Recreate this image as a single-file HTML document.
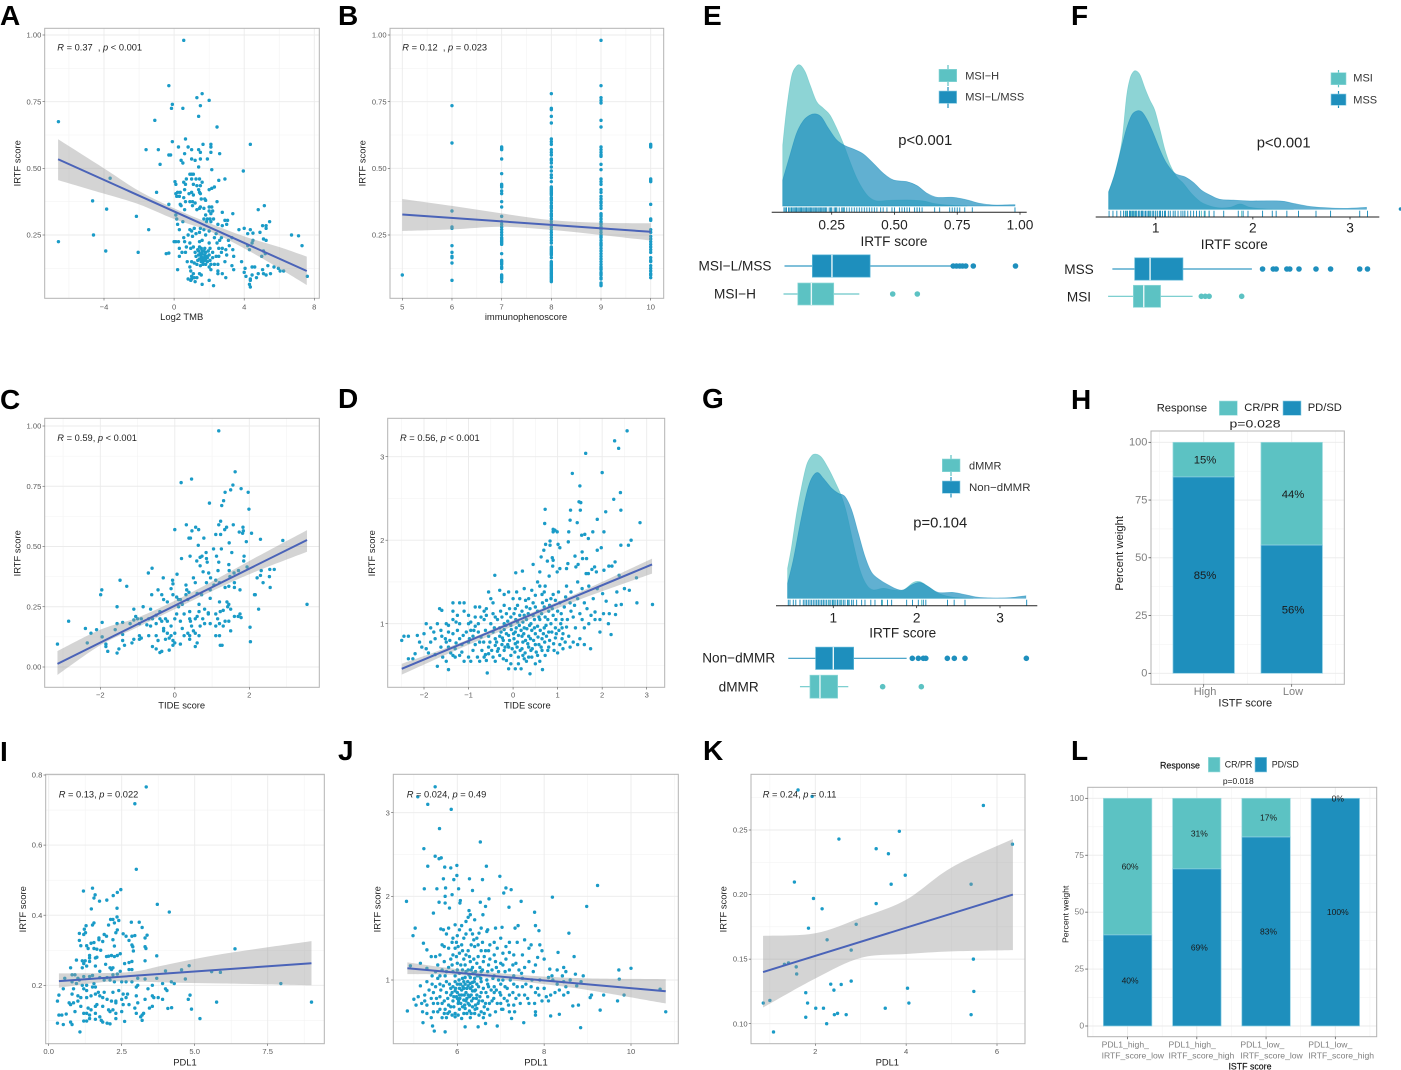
<!DOCTYPE html>
<html lang="en">
<head>
<meta charset="utf-8">
<title>IRTF score multi-panel figure</title>
<style>
html,body{margin:0;padding:0;background:#fff}
svg{display:block;font-family:"Liberation Sans",Arial,sans-serif}
.letter{font-size:28px;font-weight:700;fill:#000}
.anno{font-size:9.3px;fill:#222}
.title{font-size:9.4px;fill:#222}
.dtext{font-size:13.6px;fill:#222}
.ptext{font-size:14.8px;fill:#222}
.ltext{font-size:11px;fill:#333}
</style>
</head>
<body>
<svg id="figure" xmlns="http://www.w3.org/2000/svg" width="1401" height="1070" viewBox="0 0 1401 1070">
<rect width="1401" height="1070" fill="#fff"/>

<g id="panel-a"><g class="plot"></g>
<text class="letter" x="0" y="25">A</text>
<text class="anno" x="57.3" y="50.7"><tspan font-style="italic">R</tspan> = 0.37 &#160;, <tspan font-style="italic">p</tspan> &lt; 0.001</text>
<text class="title" x="181.7" y="320" text-anchor="middle">Log2 TMB</text>
<text class="title" transform="translate(20.5,163.3) rotate(-90)" text-anchor="middle">IRTF score</text></g>

<g id="panel-b"><g class="plot"></g>
<text class="letter" x="338" y="25">B</text>
<text class="anno" x="402.3" y="50.7"><tspan font-style="italic">R</tspan> = 0.12 &#160;, <tspan font-style="italic">p</tspan> = 0.023</text>
<text class="title" x="526" y="320" text-anchor="middle">immunophenoscore</text>
<text class="title" transform="translate(365.5,163.3) rotate(-90)" text-anchor="middle">IRTF score</text></g>

<g id="panel-c"><g class="plot"></g>
<text class="letter" x="0" y="409">C</text>
<text class="anno" x="57.3" y="441"><tspan font-style="italic">R</tspan> = 0.59, <tspan font-style="italic">p</tspan> &lt; 0.001</text>
<text class="title" x="181.7" y="708.3" text-anchor="middle">TIDE score</text>
<text class="title" transform="translate(20.5,553.3) rotate(-90)" text-anchor="middle">IRTF score</text></g>

<g id="panel-d"><g class="plot"></g>
<text class="letter" x="338" y="408">D</text>
<text class="anno" x="400" y="441"><tspan font-style="italic">R</tspan> = 0.56, <tspan font-style="italic">p</tspan> &lt; 0.001</text>
<text class="title" x="527.3" y="708.3" text-anchor="middle">TIDE score</text>
<text class="title" transform="translate(375,553.3) rotate(-90)" text-anchor="middle">IRTF score</text></g>

<g id="panel-e"><g class="plot"></g>
<text class="letter" x="703" y="25">E</text>
<text class="dtext" x="894" y="246" text-anchor="middle">IRTF score</text>
<text class="ptext" x="898.3" y="145">p&lt;0.001</text>
<text class="dtext" x="735" y="270.7" text-anchor="middle">MSI−L/MSS</text>
<text class="dtext" x="735" y="298.7" text-anchor="middle">MSI−H</text>
<g><line x1="948" x2="948" y1="65" y2="86" stroke="#5cc2c3" stroke-width="1.2"/><rect x="939" y="69.3" width="17.7" height="12.4" fill="#5cc2c3" stroke="#8fd8d8" stroke-width=".6"/><text class="ltext" x="965.2" y="79.7">MSI−H</text></g>
<g><line x1="948" x2="948" y1="87" y2="108" stroke="#1e8fbd" stroke-width="1.2"/><rect x="939" y="91" width="17.7" height="12.4" fill="#1e8fbd" stroke="#8fd0e4" stroke-width=".6"/><text class="ltext" x="965.2" y="100.7">MSI−L/MSS</text></g></g>

<g id="panel-f"><g class="plot"></g>
<text class="letter" x="1071" y="25">F</text>
<text class="dtext" x="1234.3" y="249" text-anchor="middle">IRTF score</text>
<text class="ptext" x="1256.7" y="147.3">p&lt;0.001</text>
<text class="dtext" x="1079" y="274" text-anchor="middle">MSS</text>
<text class="dtext" x="1079" y="301.5" text-anchor="middle">MSI</text>
<g><line x1="1338.5" x2="1338.5" y1="70" y2="87.3" stroke="#5cc2c3" stroke-width="1.2"/><rect x="1331" y="72.7" width="15" height="12" fill="#5cc2c3" stroke="#8fd8d8" stroke-width=".6"/><text class="ltext" x="1353.3" y="81.7">MSI</text></g>
<g><line x1="1338.5" x2="1338.5" y1="91" y2="108" stroke="#1e8fbd" stroke-width="1.2"/><rect x="1331" y="94" width="15" height="11.3" fill="#1e8fbd" stroke="#8fd0e4" stroke-width=".6"/><text class="ltext" x="1353.3" y="103.3">MSS</text></g>
<circle cx="1400.5" cy="209" r="1.8" fill="#1e8fbd"/></g>

<g id="panel-g"><g class="plot"></g>
<text class="letter" x="702" y="408">G</text>
<text class="dtext" x="902.7" y="637.7" text-anchor="middle">IRTF score</text>
<text class="ptext" x="913.3" y="527.7">p=0.104</text>
<text class="dtext" x="738.7" y="662.7" text-anchor="middle">Non−dMMR</text>
<text class="dtext" x="738.7" y="691.3" text-anchor="middle">dMMR</text>
<g><line x1="951" x2="951" y1="455" y2="476" stroke="#5cc2c3" stroke-width="1.2"/><rect x="942.3" y="459" width="17.7" height="12.7" fill="#5cc2c3" stroke="#8fd8d8" stroke-width=".6"/><text class="ltext" x="969" y="469.3">dMMR</text></g>
<g><line x1="951" x2="951" y1="477" y2="497.5" stroke="#1e8fbd" stroke-width="1.2"/><rect x="942.3" y="481" width="17.7" height="12.3" fill="#1e8fbd" stroke="#8fd0e4" stroke-width=".6"/><text class="ltext" x="969" y="491" textLength="61.5" lengthAdjust="spacingAndGlyphs">Non−dMMR</text></g></g>

<g id="panel-h"><g class="plot"></g>
<text class="letter" x="1071" y="409">H</text>
<text font-size="11.2" fill="#222" x="1156.7" y="411.7">Response</text>
<g><rect x="1219.3" y="401" width="18" height="14.3" fill="#5cc2c3" stroke="#a4dfe0" stroke-width=".6"/><text font-size="11.2" fill="#222" x="1244.3" y="411">CR/PR</text></g>
<g><rect x="1283" y="401" width="18" height="14.3" fill="#1e8fbd" stroke="#8fd0e4" stroke-width=".6"/><text font-size="11.2" fill="#222" x="1307.7" y="411">PD/SD</text></g>
<text font-size="11.4" fill="#222" x="1255" y="427.3" text-anchor="middle" textLength="51" lengthAdjust="spacingAndGlyphs">p=0.028</text>
<text font-size="11" fill="#222" x="1245.3" y="706.7" text-anchor="middle">ISTF score</text>
<text font-size="11.3" fill="#222" transform="translate(1123,553.3) rotate(-90)" text-anchor="middle">Percent weight</text></g>

<g id="panel-i"><g class="plot"></g>
<text class="letter" x="0" y="761">I</text>
<text class="anno" x="58.7" y="797.7"><tspan font-style="italic">R</tspan> = 0.13, <tspan font-style="italic">p</tspan> = 0.022</text>
<text class="title" x="185" y="1065.7" text-anchor="middle">PDL1</text>
<text class="title" transform="translate(26,909.3) rotate(-90)" text-anchor="middle">IRTF score</text></g>

<g id="panel-j"><g class="plot"></g>
<text class="letter" x="338" y="760">J</text>
<text class="anno" x="406.7" y="797.7"><tspan font-style="italic">R</tspan> = 0.024, <tspan font-style="italic">p</tspan> = 0.49</text>
<text class="title" x="536" y="1065.7" text-anchor="middle">PDL1</text>
<text class="title" transform="translate(380.5,909.3) rotate(-90)" text-anchor="middle">IRTF score</text></g>

<g id="panel-k"><g class="plot"></g>
<text class="letter" x="703" y="760">K</text>
<text class="anno" x="762.7" y="797.7"><tspan font-style="italic">R</tspan> = 0.24, <tspan font-style="italic">p</tspan> = 0.11</text>
<text class="title" x="887.3" y="1065.7" text-anchor="middle">PDL1</text>
<text class="title" transform="translate(726.5,909.3) rotate(-90)" text-anchor="middle">IRTF score</text></g>

<g id="panel-l"><g class="plot"></g>
<text class="letter" x="1071" y="760">L</text>
<text font-size="8.9" fill="#111" stroke="#111" stroke-width=".15" x="1160" y="768.3">Response</text>
<g><rect x="1208.3" y="757.3" width="11.7" height="14.7" fill="#5cc2c3" stroke="#a4dfe0" stroke-width=".6"/><text font-size="8.9" fill="#222" x="1224.7" y="767.3">CR/PR</text></g>
<g><rect x="1255" y="757.3" width="11.7" height="14.7" fill="#1e8fbd" stroke="#8fd0e4" stroke-width=".6"/><text font-size="8.9" fill="#222" x="1271.7" y="767.3">PD/SD</text></g>
<text font-size="8.5" fill="#222" x="1238.3" y="784" text-anchor="middle">p=0.018</text>
<text font-size="8.8" fill="#111" stroke="#111" stroke-width=".15" x="1250" y="1069.3" text-anchor="middle">ISTF score</text>
<text font-size="8.7" fill="#222" transform="translate(1068.5,914.3) rotate(-90)" text-anchor="middle">Percent weight</text></g>
</svg>

<script>
/* ===== Panel A values: [Log2 TMB, IRTF score] ===== */
const aXTicks=[-4,0,4,8];
const aYTicks=[.25,.5,.75,1];
const aPoints=[[.55,.98],[-.3,.81],[1.6,.78],[1.3,.765],[2,.755],[-.1,.74],[-.15,.725],[.5,.725],[1.5,.735],[1.4,.695],[-1.1,.68],[2.45,.655],[-6.6,.675],[.65,.61],[-.1,.6],[4.35,.59],[2.1,.59],[2.1,.58],[1.65,.59],[.8,.58],[.25,.58],[-1.6,.57],[-.9,.57],[1,.57],[1.4,.57],[1.5,.56],[2.1,.56],[.6,.555],[2.6,.555],[-.3,.55],[-.2,.55],[1,.535],[1.2,.53],[1.5,.535],[1.9,.535],[.4,.53],[.5,.52],[-.8,.515],[1.4,.505],[2.15,.495],[3.95,.49],[.9,.478],[1,.478],[1.1,.478],[.7,.46],[1,.46],[1.25,.46],[1.45,.46],[.55,.448],[1.6,.448],[.05,.45],[.1,.44],[.65,.44],[1.1,.44],[1.3,.435],[1.5,.435],[2.55,.455],[2.9,.46],[2,.42],[2.15,.425],[2.3,.43],[1.4,.42],[.6,.42],[1.45,.41],[-1,.41],[.2,.41],[.35,.41],[.1,.405],[.85,.405],[1,.41],[1.5,.405],[1.1,.4],[.15,.395],[.3,.395],[.55,.39],[1.55,.385],[1.75,.385],[1.8,.38],[.9,.375],[1.05,.375],[1.2,.37],[.65,.375],[2.45,.375],[-.3,.365],[.35,.365],[.4,.36],[1.05,.36],[1.5,.355],[2,.355],[2.15,.355],[1.7,.35],[1.45,.35],[2,.34],[2.2,.34],[.6,.345],[1.3,.345],[2.1,.33],[1.8,.325],[2.75,.335],[3.35,.33],[5.15,.36],[4.8,.345],[.1,.325],[.15,.31],[.5,.3],[.2,.29],[1.7,.31],[1.9,.31],[2.05,.31],[2.1,.3],[1.85,.3],[2.25,.31],[2.9,.305],[3.05,.305],[2.5,.29],[2.75,.285],[3,.29],[5.45,.3],[5.05,.285],[5.25,.285],[5.25,.275],[4,.275],[3.7,.27],[4.35,.27],[-1.45,.27],[.3,.27],[.9,.27],[1.15,.275],[1,.265],[1.5,.275],[1.7,.27],[1.45,.26],[1.25,.255],[2,.265],[2.4,.255],[4.5,.257],[4.9,.26],[4.2,.255],[6.7,.25],[7.1,.247],[7.3,.21],[-4.6,.25],[-6.6,.225],[-3.9,.19],[-2.05,.185],[-4.65,.378],[-3.85,.347],[-2.15,.32],[-3.65,.463],[.55,.24],[.8,.25],[1.05,.245],[1.8,.25],[2.3,.24],[2.7,.24],[3.3,.24],[5.1,.235],[5.25,.23],[4.5,.23],[.6,.225],[.9,.22],[1.6,.23],[1.45,.225],[2,.22],[2.45,.22],[0,.225],[.1,.225],[.25,.225],[2.6,.23],[3.1,.23],[4.45,.22],[.7,.205],[.95,.2],[1.1,.205],[1.45,.205],[1.55,.2],[1.75,.2],[2.05,.2],[2.55,.2],[2.75,.2],[2.95,.195],[3.35,.195],[3.15,.21],[.3,.2],[.45,.185],[.65,.185],[1.2,.185],[1.35,.195],[1.6,.19],[1.8,.185],[1.95,.19],[2.2,.185],[2.7,.185],[4.2,.21],[4.3,.195],[5.1,.19],[5.2,.18],[5,.17],[-.45,.18],[-.3,.182],[.3,.17],[.75,.15],[1,.15],[1.25,.17],[1.4,.175],[1.55,.17],[1.6,.18],[1.75,.175],[1.85,.17],[2,.175],[2.4,.17],[3.4,.17],[2.55,.17],[3,.175],[1.35,.155],[1.45,.16],[1.6,.16],[1.75,.155],[1.9,.15],[2.05,.155],[2.9,.15],[3.85,.15],[1.15,.145],[1.3,.14],[1.65,.14],[1.8,.14],[2.1,.14],[2.3,.14],[2.5,.14],[.2,.12],[.9,.13],[1.5,.135],[2,.13],[3.3,.135],[4.05,.125],[4.45,.13],[4.6,.13],[5.35,.135],[5.05,.12],[5.7,.13],[5.95,.125],[6.05,.115],[6.25,.115],[.95,.115],[1.1,.105],[1,.095],[1.15,.09],[1.45,.105],[1.55,.1],[2.1,.12],[2.5,.115],[2.95,.09],[2.5,.105],[2.75,.105],[3.4,.12],[4,.11],[4.45,.1],[4.1,.095],[4.7,.09],[4.35,.085],[4.35,.08],[5.1,.105],[5.5,.105],[4.3,.065],[4.35,.055],[.8,.085],[.95,.08],[1,.085],[1.2,.075],[1.3,.09],[1.6,.065],[2,.08],[2.25,.06],[7.6,.095],[1.55,.15],[1.65,.15],[1.7,.165],[1.5,.18],[1.7,.19],[1.9,.165],[1.8,.16],[1.4,.19],[2.2,.165],[4.8,.105],[5.25,.1]];
const aFitX=[-6.62,7.57];
const aFitY=[.534,.115];
const aBandX=[-6.62,-4,-2,0,2,4,6,7.57];
const aBandLow=[.456,.405,.365,.31,.265,.2,.125,.0625];
const aBandHigh=[.609,.5,.415,.35,.295,.245,.205,.169];

/* ===== Panel B values: IRTF score by immunophenoscore ===== */
const bXTicks=[5,6,7,8,9,10];
const bYTicks=[.25,.5,.75,1];
const bScores=[5,6,7,8,9,10];
const bColumns=[
[.1],
[.735,.595,.34,.28,.275,.21,.185,.17,.165,.145,.08],
[.58,.575,.57,.535,.48,.44,.435,.43,.415,.405,.375,.355,.32,.3,.29,.28,.27,.26,.25,.24,.235,.23,.225,.22,.215,.18,.155,.15,.145,.14,.13,.125,.1,.095,.09,.085,.075],
[.78,.725,.72,.695,.67,.61,.6,.59,.57,.56,.55,.535,.53,.52,.505,.49,.475,.465,.45,.43,.425,.42,.415,.41,.405,.4,.39,.385,.38,.37,.36,.355,.35,.34,.33,.325,.32,.31,.3,.29,.28,.27,.26,.25,.24,.23,.22,.205,.2,.195,.19,.185,.18,.175,.165,.15,.145,.14,.135,.13,.125,.12,.115,.11,.105,.1,.095,.09,.085,.08,.075],
[.98,.81,.765,.755,.745,.68,.655,.58,.57,.56,.55,.545,.515,.495,.46,.45,.44,.42,.41,.395,.385,.375,.37,.36,.35,.33,.325,.32,.31,.3,.295,.29,.28,.27,.26,.25,.245,.24,.23,.22,.215,.21,.2,.19,.18,.17,.16,.15,.14,.13,.125,.12,.11,.105,.1,.09,.085,.07,.065,.06],
[.59,.585,.58,.46,.455,.45,.365,.31,.305,.27,.26,.245,.235,.225,.215,.205,.195,.185,.165,.155,.15,.135,.125,.115,.105,.1,.09]];
const bFitX=[5,10];
const bFitY=[.327,.262];
const bBandX=[5,6,7,8,9,10];
const bBandLow=[.265,.271,.281,.269,.25,.229];
const bBandHigh=[.385,.359,.331,.306,.296,.294];

/* ===== Panel C values: [TIDE score, IRTF score] ===== */
const cXTicks=[-2,0,2];
const cYTicks=[0,.25,.5,.75,1];
const cPoints=[[1.18,.98],[1.62,.81],[.45,.78],[.17,.765],[1.56,.755],[1.78,.74],[1.5,.735],[1.97,.725],[1.35,.725],[1.31,.69],[.93,.68],[1.26,.67],[1.99,.655],[1.23,.605],[1.18,.59],[1.57,.59],[.31,.59],[.56,.58],[.64,.57],[0,.57],[.46,.565],[1.83,.58],[1.73,.56],[1.84,.565],[1.82,.555],[1.34,.57],[1.39,.58],[1.1,.55],[1.23,.55],[2.06,.555],[.38,.535],[.42,.535],[.78,.535],[1.92,.52],[1.46,.515],[.63,.505],[2.3,.53],[2.9,.525],[1.04,.49],[1.25,.49],[.84,.475],[1.53,.475],[.41,.46],[.68,.455],[.73,.46],[.18,.45],[1.12,.46],[1.86,.46],[.85,.45],[.87,.435],[.59,.44],[1.85,.44],[1.18,.435],[.68,.42],[1.45,.425],[1.94,.415],[1.16,.4],[1.46,.4],[1.71,.4],[2.32,.4],[2.55,.405],[2.67,.405],[-.61,.41],[-.71,.39],[.06,.385],[.91,.39],[.76,.395],[1.59,.39],[-.31,.37],[-.06,.36],[-1.47,.36],[.5,.37],[.96,.37],[1.48,.375],[2.21,.37],[2.3,.38],[2.54,.375],[-1.29,.335],[-1.96,.32],[-1.99,.3],[2.37,.35],[2.56,.33],[2.16,.3],[2.14,.3],[-.05,.345],[.3,.34],[.55,.35],[.85,.35],[1.1,.36],[1.2,.35],[1.35,.33],[1.45,.335],[1.6,.35],[1.6,.33],[1.75,.32],[.32,.32],[.38,.31],[.6,.305],[.72,.3],[.95,.32],[1.05,.34],[-.1,.325],[-.45,.32],[-.62,.3],[-.35,.3],[-.3,.28],[-.2,.27],[-.05,.3],[.05,.29],[.15,.28],[.3,.3],[.35,.28],[.65,.26],[.95,.285],[1.2,.27],[1.4,.27],[1.42,.25],[1.45,.26],[2.25,.24],[3.55,.26],[-1.55,.25],[-.85,.25],[-.65,.24],[-.4,.23],[-1.1,.24],[.05,.22],[.1,.25],[.2,.26],[.4,.23],[.65,.23],[.8,.24],[.9,.225],[1.1,.22],[1.22,.23],[1.3,.235],[1.5,.24],[1.75,.22],[1.7,.21],[1.6,.21],[1.78,.205],[-1.05,.21],[-1,.2],[-1.1,.195],[-.9,.2],[-.6,.2],[-.5,.215],[-.4,.2],[-.35,.19],[-.2,.19],[0,.2],[.15,.19],[.4,.2],[.42,.19],[.6,.21],[.75,.2],[.95,.18],[1.15,.2],[1.35,.19],[1.45,.19],[-2.85,.19],[-1.95,.185],[-1.55,.18],[-1.4,.185],[-1.2,.18],[-.95,.18],[-.75,.175],[-.65,.17],[-.5,.18],[-.3,.16],[-.1,.17],[.2,.16],[.45,.17],[.5,.15],[1.1,.17],[1.2,.18],[1.3,.17],[1.5,.15],[-2.4,.16],[-2.1,.155],[-2.25,.14],[-1.6,.155],[-1.4,.135],[-.95,.13],[-.7,.13],[-.5,.13],[-.3,.15],[-.15,.12],[0,.14],[.35,.14],[.4,.13],[.65,.13],[1.1,.13],[1.2,.13],[2.02,.165],[-1.95,.125],[-1.85,.095],[-2.35,.1],[-1.4,.11],[-1.15,.1],[-1.1,.115],[-.95,.115],[-.9,.12],[-.45,.11],[-.25,.115],[-.05,.11],[0,.1],[.15,.095],[.4,.115],[.6,.1],[.55,.085],[1.22,.09],[1.27,.09],[2.03,.105],[-3.15,.095],[-1.85,.085],[-1.8,.065],[-1.55,.058],[-1.5,.075],[-1.35,.09],[-.6,.085],[-.5,.075],[-.4,.06],[-.35,.065],[-.15,.07],[-.05,.09],[-.2,.14],[-.1,.13],[.25,.13],[-.25,.2],[-.7,.2],[.1,.28],[.25,.22],[.55,.2],[.55,.14],[.68,.17],[.8,.18],[.9,.22]];
const cFitX=[-3.15,3.55];
const cFitY=[.013,.527];
const cBandX=[-3.15,-2,-1,0,1,2,3.55];
const cBandLow=[-.033,.09,.165,.24,.315,.385,.478];
const cBandHigh=[.066,.155,.205,.275,.355,.44,.568];

/* ===== Panel D values: [TIDE score, IRTF score] ===== */
const dXTicks=[-2,-1,0,1,2,3];
const dYTicks=[1,2,3];
const dPoints=[[2.56,3.31],[2.28,3.19],[2.37,3.1],[1.63,3.04],[1.33,2.8],[2,2.81],[1.5,2.65],[2.41,2.57],[2.26,2.49],[1.48,2.46],[1.52,2.45],[.72,2.37],[1.29,2.36],[1.51,2.36],[2.42,2.36],[2.08,2.34],[1.89,2.25],[1.28,2.24],[1.44,2.21],[2.85,2.21],[.71,2.2],[.9,2.13],[.94,2.12],[.99,2.1],[.9,2.1],[1.25,2.1],[1.79,2.1],[2.04,2.1],[1.61,2.07],[1.54,2.06],[1.69,2.02],[2.65,2],[.83,1.99],[1.24,1.98],[.73,1.95],[.83,1.94],[1.01,1.95],[1.05,1.91],[2.42,1.94],[2.59,1.94],[1.98,1.91],[1.89,1.88],[.69,1.88],[1.55,1.86],[.45,1.71],[.63,1.8],[.88,1.79],[1.39,1.81],[1.56,1.78],[1.65,1.78],[.77,1.75],[.9,1.76],[.89,1.69],[1.23,1.72],[1.46,1.71],[-.41,1.58],[.06,1.61],[.21,1.63],[2.29,1.74],[2.15,1.69],[2.22,1.69],[1.83,1.68],[1.77,1.65],[1.87,1.62],[1.64,1.6],[1.69,1.6],[2.04,1.64],[.81,1.57],[.6,1.62],[.99,1.62],[1.05,1.66],[1.2,1.66],[1.41,1.68],[2.77,1.55],[2.38,1.58],[2.5,1.42],[2.61,1.4],[2.33,1.38],[2.78,1.25],[3.13,1.23],[2.31,1.22],[2.43,1.23],[2.09,1.27],[2.01,1.36],[1.89,1.42],[2.16,1.12],[2.3,1.11],[2.03,1.12],[1.84,1.05],[1.95,1.05],[1.84,1.14],[2.14,1],[1.95,.9],[2.2,.87],[1.74,.7],[1.6,.75],[1.5,.82],[1.35,.78],[1.25,.85],[1.1,.82],[1.4,.95],[1.6,.95],[1.7,1],[1.75,1.1],[1.6,1.25],[1.45,1.3],[1.3,1.38],[1.2,1.45],[1.45,1.5],[1.55,1.42],[1.7,1.45],[1.8,1.3],[1.3,1.15],[1.1,1.05],[1,1.15],[1.05,1.25],[.9,1.35],[.85,1.3],[.75,1.28],[.65,1.35],[.55,1.5],[.6,1.45],[.45,1.25],[.35,1.3],[.25,1.42],[.3,1.2],[.15,1.3],[0,1.3],[-.1,1.38],[-.2,1.35],[-.3,1.4],[-.45,1.25],[-.55,1.38],[-.5,1.3],[-.75,1.2],[-.85,1.2],[-1.1,1.15],[-1.35,1.25],[-1.2,1.25],[-1.1,1.25],[-1.65,1.18],[-1.6,1.16],[-1.35,1.15],[-1.25,1.1],[-1,1.1],[-.85,1.08],[-.65,1.15],[-.45,1.12],[-.2,1.22],[-.15,1.12],[.05,1.18],[.15,1.1],[.25,1.1],[.45,1.1],[.55,1.15],[.7,1.2],[.8,1.15],[.9,1.1],[-1.5,1],[-1.95,1],[-1.7,1],[-1.35,1.05],[-1.2,1],[-1,1],[-.85,.97],[-.65,1.05],[-.5,1],[-.35,1.05],[-.2,1],[-.05,.98],[.1,1.02],[.25,.95],[.4,1],[.55,.97],[.7,.95],[.8,.9],[.95,.95],[1.1,.95],[-2,.88],[-1.85,.95],[-1.6,.85],[-1.5,.78],[-1.35,.88],[-1.2,.82],[-1.05,.9],[-.9,.85],[-.75,.78],[-.55,.85],[-.45,.9],[-.3,.85],[-.2,.93],[-.1,.86],[.05,.9],[.2,.85],[.35,.85],[.5,.88],[.65,.82],[.75,.85],[.95,.83],[1.05,.75],[-2.5,.8],[-2.45,.85],[-2.35,.85],[-2.1,.78],[-2.05,.72],[-1.9,.65],[-1.95,.7],[-2.2,.64],[-2.25,.58],[-1.75,.63],[-1.45,.72],[-1.3,.7],[-1.15,.75],[-1,.78],[-.85,.75],[-.7,.68],[-.55,.72],[-.4,.74],[-.25,.75],[-.1,.72],[.05,.76],[.2,.7],[.35,.72],[.5,.75],[.65,.68],[.8,.72],[1,.65],[-2.35,.58],[-1.7,.49],[-1.5,.55],[-1.45,.45],[-1.35,.62],[-1.2,.62],[-1.1,.55],[-1,.6],[-.8,.6],[-.75,.55],[-.6,.56],[-.58,.41],[-.45,.6],[-.3,.62],[-.15,.56],[-.1,.46],[.05,.46],[.18,.46],[.25,.58],[.3,.55],[.38,.4],[.6,.55],[.66,.45],[.4,.68],[.55,.62],[-.05,.62],[-.2,.68],[-.35,.67],[-.62,.63],[-.9,.68],[-1.15,.66],[-1.4,.65],[-1.58,.6],[-.3,.95],[-.15,.88],[.02,.82],[.1,.78],[-.22,.8],[-.12,.75],[.18,.92],[.28,.8],[-.4,.82],[.42,.92],[.6,1.05],[.72,1.08],[.3,1.05],[-.05,1.08],[-.62,.92],[-.78,.9],[-.95,.92],[-1.25,.92],[-1.45,.9],[.85,1],[1.22,1.05],[1.35,1.08],[1.02,1.38],[.72,1.45],[.42,1.4]];
const dPointsExtra=[[-1.52,.82],[-1.42,.8],[-1.28,.77],[-1.12,.86],[-.98,.82],[-.88,.92],[-.72,.84],[-.66,.78],[-.52,.78],[-.48,.68],[-.42,.95],[-.37,.78],[-.33,.7],[-.27,.9],[-.24,.83],[-.18,.72],[-.16,.98],[-.08,.8],[-.04,.93],[-.02,.7],[.01,.88],[.04,.66],[.07,.95],[.09,.72],[.12,.86],[.14,.98],[.16,.68],[.22,.78],[.24,.88],[.27,.65],[.31,.94],[.33,.76],[.37,.98],[.39,.82],[.43,.7],[.46,.8],[.48,.95],[.52,.66],[.56,.84],[.58,.75],[.61,.92],[.63,.72],[.68,.88],[.71,.78],[.74,.98],[.78,.68],[.82,.8],[.87,.9],[.91,.76],[.97,.88],[1.03,.92],[1.07,1],[1.12,.88],[1.17,.78],[1.2,.96],[-.95,1.02],[-.78,1],[-.6,1.1],[-.4,1.08],[-.28,1.15],[-.25,1.08],[-.12,1.03],[-.08,1.18],[.02,1.12],[.06,1.05],[.1,1.22],[.2,1.15],[.22,1.02],[.34,1.12],[.38,1.18],[.48,1.05],[.5,1.2],[.58,1.08],[.64,1.12],[.66,1.25],[.78,1.05],[.82,1.22],[.88,1.18],[.96,1.05],[1.08,1.12],[1.15,1.2],[1.18,1.32],[1.28,1.25],[1.38,1.22],[1.5,1.12],[1.55,1.05],[1.66,1.18],[.28,1.28],[.5,1.34],[.7,1.38],[.95,1.28],[.08,1.38],[-.6,1.18],[-.72,1.08],[-1.28,1.02],[-1.45,.98],[-1.62,.92],[-1.75,.82],[-1.85,.78],[-1.62,.72],[-1.78,.9],[-2.15,.86],[-1.3,.6],[-.95,.55],[-.55,.64],[-.22,.58],[.12,.6],[.42,.6],[.72,.62],[.92,.68],[1.12,.7],[1.28,.72],[1.45,.75],[-.65,.6],[-.4,.55],[-.05,.52],[.12,.52],[.22,.62],[.35,.6],[.5,.52]];
const dFitX=[-2.5,3.12];
const dFitY=[.46,1.71];
const dBandX=[-2.5,-1.25,0,1.5,3.12];
const dBandLow=[.39,.69,.97,1.29,1.6];
const dBandHigh=[.52,.76,1.04,1.38,1.78];

/* ===== Panel E values: density [IRTF score, density] ===== */
const eXTicks=[.25,.5,.75,1];
const eMsiHDensity=[[.055,1.83],[.07,2.88],[.09,3.88],[.108,4.18],[.124,4.23],[.144,4.03],[.164,3.63],[.19,3.13],[.217,2.93],[.243,2.73],[.27,2.33],[.296,1.88],[.323,1.33],[.35,.83],[.376,.48],[.4,.26],[.43,.15],[.48,.17],[.55,.18],[.615,.15],[.655,.08],[.708,.03],[.79,0]];
const eMssDensity=[[.055,.78],[.084,1.53],[.11,2.18],[.137,2.56],[.164,2.73],[.188,2.76],[.21,2.66],[.237,2.33],[.27,1.98],[.303,1.81],[.336,1.71],[.376,1.56],[.416,1.28],[.456,.98],[.496,.78],[.55,.73],[.59,.61],[.63,.38],[.67,.26],[.735,.26],[.79,.18],[.84,.08],[.895,.03],[.98,.04]];
const eMssRug=[.06,.065,.07,.078,.083,.09,.095,.1,.105,.11,.115,.12,.125,.13,.135,.14,.145,.15,.155,.16,.165,.17,.175,.18,.185,.19,.195,.2,.205,.21,.215,.22,.225,.23,.24,.245,.25,.26,.265,.27,.28,.29,.295,.3,.31,.32,.33,.34,.35,.36,.37,.38,.39,.4,.41,.42,.43,.445,.455,.47,.49,.5,.52,.53,.54,.55,.56,.58,.59,.6,.61,.66,.68,.72,.73,.74,.75,.76,.78,.81,.98];
const eMsiHRug=[.06,.07,.085,.09,.1,.105,.11,.12,.125,.13,.14,.15,.16,.165,.18,.2,.22,.25,.27,.3,.49,.59];
const eMssBox=[.062,.173,.251,.403,.728];
const eMssOutliers=[.734,.747,.76,.771,.784,.814,.982];
const eMsiHBox=[.058,.115,.169,.258,.36];
const eMsiHOutliers=[.493,.591];

/* ===== Panel F values ===== */
const fXTicks=[1,2,3];
const fMsiDensity=[[.516,.21],[.58,.43],[.65,.8],[.7,1.35],[.736,1.57],[.77,1.65],[.8,1.66],[.84,1.61],[.89,1.45],[.94,1.31],[.99,1.19],[1.045,.95],[1.096,.71],[1.15,.53],[1.216,.39],[1.285,.31],[1.353,.21],[1.42,.13],[1.49,.07],[1.63,.02],[1.765,.024],[1.87,.064],[1.97,.024],[2.14,.004],[2.42,0]];
const fMssDensity=[[.516,.21],[.58,.43],[.65,.75],[.7,.97],[.753,1.13],[.805,1.18],[.856,1.17],[.914,1.07],[.976,.91],[1.045,.71],[1.113,.55],[1.2,.43],[1.3,.39],[1.39,.32],[1.47,.23],[1.56,.17],[1.66,.12],[1.8,.11],[1.97,.1],[2.28,.1],[2.42,.07],[2.62,.03],[2.93,.012],[3.17,.024]];
const fMssRug=[.52,.56,.6,.64,.67,.69,.71,.73,.74,.76,.77,.79,.8,.82,.83,.85,.86,.87,.89,.9,.92,.93,.95,.97,.98,1,1.02,1.04,1.05,1.07,1.09,1.1,1.13,1.15,1.18,1.2,1.23,1.26,1.28,1.3,1.33,1.36,1.39,1.42,1.45,1.5,1.55,1.6,1.7,1.85,1.9,1.95,2.1,2.2,2.24,2.35,2.47,2.65,2.8,3.1,3.18];
const fMsiRug=[.67,.7,.73,.75,.78,.8,.83,.86,.9,.94,1,1.05,1.1,1.2,1.3,1.47,1.51,1.55,1.885];
const fMssBox=[.554,.784,.942,1.28,1.99];
const fMssOutliers=[2.1,2.21,2.24,2.35,2.38,2.475,2.65,2.8,3.1,3.18];
const fMsiBox=[.51,.77,.877,1.05,1.38];
const fMsiOutliers=[1.47,1.51,1.55,1.885];

/* ===== Panel G values ===== */
const gXTicks=[1,2,3];
const gDmmrDensity=[[.452,.36],[.5,.62],[.56,1.02],[.62,1.34],[.68,1.6],[.74,1.71],[.79,1.73],[.86,1.69],[.94,1.56],[1.02,1.4],[1.1,1.22],[1.16,1.02],[1.24,.66],[1.32,.34],[1.4,.16],[1.48,.1],[1.6,.12],[1.72,.1],[1.84,.1],[1.96,.19],[2.04,.2],[2.14,.14],[2.26,.06],[2.44,.012],[2.68,0]];
const gNonDmmrDensity=[[.452,.18],[.52,.46],[.6,.88],[.68,1.26],[.74,1.44],[.81,1.51],[.88,1.44],[.98,1.32],[1.06,1.26],[1.14,1.22],[1.22,1.06],[1.3,.78],[1.38,.5],[1.46,.31],[1.56,.22],[1.66,.16],[1.76,.11],[1.84,.1],[1.94,.16],[2.04,.19],[2.14,.14],[2.26,.07],[2.44,.07],[2.6,.04],[2.76,.01],[3.08,.006],[3.31,.03]];
const gNonDmmrRug=[.46,.48,.52,.55,.6,.64,.66,.68,.7,.72,.74,.76,.78,.8,.82,.84,.86,.88,.9,.92,.95,.97,.99,1.01,1.03,1.05,1.07,1.09,1.12,1.14,1.17,1.19,1.22,1.24,1.28,1.34,1.38,1.45,1.5,1.58,1.65,1.7,1.88,1.95,2.02,2.08,2.11,2.37,2.45,2.58,3.32];
const gDmmrRug=[.6,.66,.72,.78,.82,.88,.94,1,1.05,1.1,1.18,1.59,2.06];
const gNonDmmrBox=[.46,.788,1,1.244,1.88];
const gNonDmmrOutliers=[1.948,2.02,2.08,2.11,2.368,2.452,2.58,3.316];
const gDmmrBox=[.6,.72,.84,1.052,1.18];
const gDmmrOutliers=[1.592,2.056];

/* ===== Panel H values ===== */
const hCategories=['High','Low'];
const hPdSd=[85,55.5];
const hCrPr=[15,44.5];
const hPdLabels=['85%','56%'];
const hCrLabels=['15%','44%'];
const hYTicks=[0,25,50,75,100];

/* ===== Panel I values: [PDL1, IRTF score] ===== */
const iXTicks=[0,2.5,5,7.5];
const iYTicks=[.2,.4,.6,.8];
const iPoints=[[3.34,.766],[2.95,.718],[3,.531],[1.5,.477],[1.19,.469],[2.47,.473],[2.35,.465],[1.59,.458],[2.21,.456],[1.55,.449],[1.74,.44],[1.99,.443],[3.72,.431],[4.13,.409],[1.46,.418],[2.34,.42],[2.34,.395],[6.38,.304],[4.81,.256],[4.55,.244],[4,.241],[5.58,.239],[5.88,.237],[4.68,.218],[7.95,.205],[9,.152],[5.75,.152],[5.18,.105],[4.89,.132],[4.84,.172],[4.78,.16],[4.21,.136],[4.08,.134],[1.07,.067],[3.7,.284],[3.3,.27],[3.37,.343],[3.3,.335],[3.3,.31],[3.33,.305],[3.2,.365],[3.1,.38],[2.83,.38],[2.4,.385],[2.2,.388],[2.12,.388],[2.05,.372],[2.25,.378],[2.35,.358],[2.55,.347],[2.65,.34],[2.85,.34],[2.95,.342],[2.75,.328],[2.85,.315],[2.88,.31],[2.9,.298],[2.45,.29],[2.35,.285],[2.25,.282],[2.15,.285],[2.05,.283],[1.98,.282],[1.28,.37],[1.22,.36],[1.26,.35],[1.2,.345],[1.05,.348],[1.05,.328],[1.1,.313],[1.3,.313],[1.35,.305],[1.55,.378],[1.5,.372],[1.45,.32],[1.55,.322],[1.72,.33],[1.72,.335],[1.85,.325],[1.9,.345],[1.98,.34],[2.2,.33],[2.3,.35],[2.25,.312],[1.55,.305],[1.65,.303],[1.78,.3],[1.4,.285],[1.4,.278],[1.6,.278],[1.65,.28],[1.25,.27],[.95,.272],[1.15,.27],[1.2,.262],[1.3,.255],[1.15,.25],[.75,.25],[1.4,.268],[1.6,.255],[1.75,.24],[1.95,.26],[2.1,.25],[2.2,.25],[2.15,.245],[2.6,.262],[2.75,.265],[2.85,.268],[2.75,.245],[2.85,.245],[2.45,.24],[2.35,.232],[2.2,.23],[2,.222],[1.75,.222],[1.5,.228],[1.4,.225],[1.2,.225],[.8,.23],[.9,.23],[.55,.22],[1,.22],[1.05,.215],[.8,.21],[.95,.205],[1.15,.2],[1.3,.2],[1.55,.205],[1.9,.215],[2.1,.215],[2.25,.21],[2.5,.21],[2.65,.21],[2.85,.21],[3.05,.22],[3.3,.218],[3.7,.22],[3.05,.2],[3,.195],[3.55,.2],[3.9,.205],[4,.19],[4.05,.185],[4.2,.21],[4.3,.205],[.5,.19],[.85,.19],[1.2,.19],[1.3,.185],[1.5,.195],[1.6,.195],[1.75,.17],[1.9,.18],[2.2,.18],[2.4,.185],[2.55,.175],[2.7,.175],[3,.17],[3.4,.19],[3.55,.17],[3.6,.165],[3.75,.165],[3.9,.16],[.35,.172],[.3,.155],[.8,.175],[1,.17],[1.1,.165],[1,.155],[1.3,.165],[1.45,.17],[1.6,.175],[1.7,.18],[1.85,.165],[2,.16],[2.15,.155],[2.3,.155],[2.5,.16],[2.65,.165],[3.3,.16],[3.55,.14],[3.45,.135],[.7,.15],[.75,.145],[.85,.15],[1.1,.14],[1.35,.135],[1.45,.13],[1.6,.14],[1.65,.145],[1.85,.14],[2.05,.13],[2.2,.13],[2.3,.15],[2.55,.145],[2.75,.145],[2.95,.135],[3.05,.15],[.35,.115],[.45,.115],[.6,.118],[.9,.125],[1.2,.12],[1.3,.12],[1.4,.115],[1.6,.12],[1.75,.11],[2.1,.125],[2.3,.12],[2.5,.125],[3,.12],[3.2,.115],[3.25,.12],[.3,.092],[.5,.088],[.75,.095],[.8,.088],[1.2,.098],[1.3,.098],[1.4,.105],[1.6,.103],[1.8,.1],[1.85,.095],[2,.092],[2.1,.09],[2.3,.105],[2.6,.097],[3.15,.11],[3.2,.1]];
const iFitX=[.35,9];
const iFitY=[.212,.263];
const iBandX=[.35,2,3,4,6,9];
const iBandLow=[.193,.21,.21,.208,.205,.2];
const iBandHigh=[.234,.235,.24,.258,.29,.326];

/* ===== Panel J values: [PDL1, IRTF score] ===== */
const jXTicks=[6,8,10];
const jYTicks=[1,2,3];
const jPoints=[[5.49,3.31],[5.09,3.19],[5.32,3.1],[5.86,3.04],[5.59,2.81],[6.53,2.65],[5.23,2.57],[5.49,2.48],[5.63,2.46],[5.58,2.45],[5.32,2.36],[5.71,2.35],[5.99,2.37],[5.85,2.34],[6.67,2.36],[6.98,2.24],[5.99,2.25],[5.92,2.2],[5.68,2.21],[6.28,2.21],[6.58,2.2],[5.24,2.09],[5.53,2.09],[5.73,2.1],[6.03,2.09],[6.35,2.07],[7.12,2.1],[7.24,2.08],[7.07,2.04],[8.19,1.99],[9.23,2.13],[4.83,1.94],[5.88,2.02],[5.72,2],[5.58,1.93],[5.72,1.92],[6.07,1.95],[6.06,1.92],[6.53,1.93],[6.73,1.97],[7.47,1.94],[6.65,1.88],[7.19,1.87],[5.82,1.86],[8.98,1.88],[7.78,1.81],[5.45,1.8],[6.27,1.83],[6.59,1.78],[5.03,1.62],[4.98,1.53],[5.62,1.61],[5.68,1.6],[5.22,1.44],[8.57,1.56],[8.32,1.33],[8.69,1.28],[10,1.14],[9.72,1.12],[9.73,1.01],[10.67,.89],[10.8,.62],[9.84,.82],[9.69,.75],[8.84,.43],[9.29,.64],[9.37,.82],[9.06,.79],[9.09,.82],[8.79,.7],[8.66,.69],[8.35,.59],[8.15,.57],[4.85,.63],[7.53,.49],[6.92,.45],[6.48,.44],[6.65,.48],[6.18,.44],[5.72,.38],[5.47,.39],[5.43,.45],[5.21,.49],[7.8,1.65],[7.88,1.59],[7.4,1.65],[7.03,1.63],[6.88,1.62],[7.33,1.62],[6.7,1.6],[6.25,1.75],[6.3,1.78],[6.4,1.72],[6.1,1.65],[6.05,1.6],[6.2,1.7],[5.95,1.66],[5.75,1.55],[5.9,1.5],[6,1.53],[6.15,1.5],[6.35,1.55],[6.45,1.5],[6.5,1.56],[6.75,1.42],[6.85,1.45],[7,1.5],[7.2,1.45],[7.38,1.45],[7.55,1.48],[7.7,1.42],[7.9,1.42],[7.95,1.35],[7.65,1.38],[7.5,1.3],[7.2,1.33],[5.3,1.36],[5.4,1.28],[5.15,1.2],[4.92,1.17],[5.5,1.28],[5.6,1.3],[5.7,1.4],[5.8,1.38],[5.95,1.38],[6.1,1.42],[6.25,1.35],[6.4,1.4],[6.55,1.35],[6.65,1.35],[6.85,1.3],[7,1.2],[7.05,1.32],[5.7,1.22],[5.85,1.25],[6,1.2],[6.15,1.25],[6.3,1.22],[6.45,1.2],[6.6,1.22],[6.75,1.25],[6.9,1.15],[7.1,1.1],[7.35,1.2],[7.55,1.15],[7.65,1.22],[7.85,1.27],[8,1.25],[8.13,1.13],[8.3,1.12],[8.5,1.1],[8.45,1.15],[8.72,1.07],[8.9,1.05],[5.3,1.14],[5.5,1.1],[5.6,1.05],[5.75,1.1],[5.9,1.1],[6.05,1.08],[6.2,1.1],[6.35,1.15],[6.55,1.1],[6.7,1.1],[6.85,1.05],[7.05,1],[7.3,1.05],[7.5,1.02],[7.75,1.1],[8.1,1.03],[8.2,1],[8.45,.98],[8.6,1],[8.85,.98],[5.15,.93],[5.3,.98],[5.5,.92],[5.6,.95],[5.75,.98],[5.85,.9],[5.95,.98],[6.05,.95],[6.15,.98],[6.25,.93],[6.35,.97],[6.45,.95],[6.55,.98],[6.7,.95],[6.85,.92],[7,.95],[7.15,.9],[7.3,.95],[7.5,.92],[7.7,.92],[7.85,.9],[8.3,.95],[8.5,.92],[8.75,.93],[5.1,.8],[5.25,.82],[5.45,.85],[5.6,.8],[5.75,.85],[5.85,.82],[5.95,.87],[6.05,.82],[6.1,.88],[6.2,.85],[6.28,.8],[6.35,.87],[6.45,.82],[6.55,.85],[6.7,.8],[6.85,.85],[7,.82],[7.2,.82],[7.35,.78],[7.55,.82],[7.8,.85],[8.05,.8],[8.15,.82],[8.45,.82],[5,.77],[5.05,.7],[5.3,.7],[5.45,.72],[5.55,.72],[5.7,.75],[5.8,.7],[5.9,.75],[6,.78],[6.08,.72],[6.15,.76],[6.25,.72],[6.33,.75],[6.42,.7],[6.5,.75],[6.65,.72],[6.8,.75],[7,.72],[7.15,.75],[7.3,.7],[7.45,.72],[7.65,.72],[7.95,.75],[8.1,.75],[5.2,.62],[5.3,.6],[5.4,.55],[5.45,.62],[5.6,.65],[5.7,.6],[5.82,.62],[5.95,.6],[6.05,.65],[6.15,.6],[6.28,.63],[6.4,.6],[6.55,.62],[6.7,.65],[6.88,.62],[7.05,.65],[7.2,.62],[7.25,.54],[7.8,.62],[7.8,.58],[5.65,.55],[5.75,.55],[5.95,.56],[6.1,.54],[6.3,.55],[6.6,.55],[6.75,.58],[6.05,.9],[6.15,.9],[6.22,.78],[6.3,.9],[6.4,.87],[5.98,.8],[6.03,.75],[6.12,.68],[6.18,1.03],[6.3,1.03],[6.4,1.02],[6.5,1.05],[5.92,.68],[6.35,.68]];
const jPointsExtra=[[5.62,.88],[5.68,.93],[5.78,.78],[5.82,.95],[5.88,.85],[5.9,.92],[5.92,.8],[5.96,.9],[6,.85],[6,.95],[6.02,.72],[6.04,1],[6.06,.78],[6.08,.95],[6.1,.82],[6.12,1.02],[6.13,.92],[6.16,.82],[6.17,.7],[6.18,.95],[6.2,.75],[6.22,.9],[6.24,.98],[6.25,.82],[6.27,1.06],[6.28,.7],[6.3,.96],[6.32,.82],[6.34,.92],[6.36,1.08],[6.37,.78],[6.39,.98],[6.41,.65],[6.42,.88],[6.44,.78],[6.46,1.05],[6.48,.72],[6.49,.92],[6.52,.8],[6.54,1.02],[6.58,.75],[6.6,.9],[6.62,.68],[6.66,.85],[6.68,1],[6.72,.92],[6.74,.72],[6.78,.88],[6.82,1.02],[6.84,.78],[6.9,.88],[6.92,.72],[6.95,1],[6.98,.85],[7.02,.65],[7.08,.78],[7.1,.92],[7.18,.7],[7.22,1],[7.28,.85],[7.32,.62],[7.38,.92],[7.42,.82],[7.48,1.08],[7.58,.95],[7.62,.78],[7.72,1],[7.78,.72],[7.88,.82],[8,.9],[5.55,.62],[5.65,.72],[5.72,.65],[5.78,.6],[5.85,.68],[5.88,.58],[6.02,.58],[6.18,.66],[6.22,.6],[6.32,.6],[6.45,.66],[6.5,.58],[6.62,.6],[5.18,.72],[5.25,.75],[5.35,.88],[5.4,.78],[5.42,.95],[5.52,.78],[5.55,1.02],[5.65,1.12],[5.72,1.05],[5.8,1.15],[5.88,1.18],[5.95,1.05],[6,1.12],[6.08,1.18],[6.12,1.12],[6.18,1.18],[6.25,1.12],[6.28,1.28],[6.32,1.12],[6.38,1.25],[6.42,1.1],[6.48,1.28],[6.52,1.15],[6.58,1.12],[6.62,1.28],[6.72,1.18],[6.8,1.12],[6.88,1.22],[6.95,1.1],[7.05,1.18],[7.12,1.25],[7.2,1.12],[7.28,1.18],[7.42,1.12],[5.9,1.3],[5.98,1.28],[6.05,1.32],[6.12,1.35],[6.2,1.3],[6.32,1.42],[6.48,1.42],[6.58,1.45],[6.72,1.35],[5.8,1.62],[5.88,1.45],[5.98,1.45],[6.02,1.4],[6.2,1.55],[6.3,1.6],[6.38,1.48],[6.55,1.62],[5.65,1.42],[5.55,1.18],[5.42,1.05],[6.68,1.58],[6.92,1.38],[7.12,1.4],[7.3,1.3],[7.8,1.18],[8.18,1.05],[8.42,1.05],[7.9,1],[8.25,.85],[8.35,.88],[8.55,.85]];
const jFitX=[4.85,10.8];
const jFitY=[1.14,.865];
const jBandX=[4.85,6,7,8,9,10.8];
const jBandLow=[1.07,1.06,1.01,.95,.88,.72];
const jBandHigh=[1.21,1.13,1.08,1.04,1.02,1.01];

/* ===== Panel K values: [PDL1, IRTF score] ===== */
const kXTicks=[2,4,6];
const kYTicks=[.1,.15,.2,.25];
const kPoints=[[1.62,.281],[1.93,.276],[5.7,.269],[3.85,.249],[2.52,.243],[6.34,.239],[3.34,.2355],[3.61,.2316],[3.98,.215],[1.54,.2097],[3.67,.208],[5.43,.208],[1.96,.197],[3.34,.193],[2.15,.189],[2.9,.177],[1.85,.174],[2.26,.165],[2.79,.157],[5.48,.15],[1.32,.146],[1.41,.147],[1.58,.144],[1.59,.1385],[2.79,.133],[2.34,.1306],[2.57,.1304],[4.03,.1275],[2.41,.126],[1.79,.124],[5.49,.125],[1,.118],[.855,.116],[1.83,.116],[4.06,.116],[2.01,.112],[2.18,.112],[3.54,.112],[2.49,.108],[2.42,.107],[2.68,.107],[1.79,.105],[5.43,.107],[2.25,.1],[1.08,.0936]];
const kFitX=[.85,6.35];
const kFitY=[.14,.2];
const kBandX=[.85,2,3,4,5,6.35];
const kBandLow=[.1125,.135,.151,.154,.156,.157];
const kBandHigh=[.168,.17,.182,.196,.221,.243];

/* ===== Panel L values ===== */
const lCategories=['PDL1_high_|IRTF_score_low','PDL1_high_|IRTF_score_high','PDL1_low_|IRTF_score_low','PDL1_low_|IRTF_score_high'];
const lPdSd=[40,69,83,100];
const lCrPr=[60,31,17,0];
const lPdLabels=['40%','69%','83%','100%'];
const lCrLabels=['60%','31%','17%','0%'];
const lYTicks=[0,25,50,75,100];

/* ===== Drawing ===== */
const NS='http://www.w3.org/2000/svg';
const TEAL='#5cc2c3', BLUE='#1e8fbd', DOT='#1a9bc7';
function make(tag,attrs,parent){
  const el=document.createElementNS(NS,tag);
  for(const k in attrs) el.setAttribute(k,attrs[k]);
  parent.appendChild(el);
  return el;
}
function scale(d0,d1,p0,p1){return v=>p0+(v-d0)*(p1-p0)/(d1-d0);}
function fmt(v,dec){return v.toFixed(dec).replace('-','−');}
function plotOf(id){return document.querySelector('#'+id+' .plot');}
function smoothPath(pts){
  let d='M'+pts[0][0]+' '+pts[0][1];
  for(let i=0;i<pts.length-1;i++){
    const p0=pts[i-1]||pts[i],p1=pts[i],p2=pts[i+1],p3=pts[i+2]||p2;
    d+='C'+(p1[0]+(p2[0]-p0[0])/6)+' '+(p1[1]+(p2[1]-p0[1])/6)+' '+(p2[0]-(p3[0]-p1[0])/6)+' '+(p2[1]-(p3[1]-p1[1])/6)+' '+p2[0]+' '+p2[1];
  }
  return d;
}

function drawFrameAndGrid(g,r,x,y,xt,yt){
  const bg=make('rect',{x:r.l,y:r.t,width:r.r-r.l,height:r.b-r.t,fill:'#fff'},g);
  
  
  const minors=(t)=>{const o=[];const st=t.length>1?t[1]-t[0]:0;
    o.push(t[0]-st/2);for(let i=0;i<t.length;i++)o.push(t[i]+st/2);return o;};
  minors(xt).forEach(v=>{const p=x(v);if(p>r.l&&p<r.r){
    const l=make('line',{x1:p,x2:p,y1:r.t,y2:r.b,stroke:'#f3f3f3','stroke-width':.6},g);
    
    }});
  minors(yt).forEach(v=>{const p=y(v);if(p>r.t&&p<r.b){
    const l=make('line',{x1:r.l,x2:r.r,y1:p,y2:p,stroke:'#f3f3f3','stroke-width':.6},g);
    
    }});
  xt.forEach(v=>{const p=x(v);
    const l=make('line',{x1:p,x2:p,y1:r.t,y2:r.b,stroke:'#ebebeb','stroke-width':.9},g);
    
    });
  yt.forEach(v=>{const p=y(v);
    const l=make('line',{x1:r.l,x2:r.r,y1:p,y2:p,stroke:'#ebebeb','stroke-width':.9},g);
    
    });
}
function drawBorder(g,r){
  const b=make('rect',{x:r.l,y:r.t,width:r.r-r.l,height:r.b-r.t,fill:'none',stroke:'#b3b3b3','stroke-width':1},g);
  
  
}

function drawScatter(c){
  const g=plotOf(c.id), r=c.rect;
  const x=scale(c.xa[0],c.xa[1],c.xa[2],c.xa[3]);
  const y=scale(c.ya[0],c.ya[1],c.ya[2],c.ya[3]);
  drawFrameAndGrid(g,r,x,y,c.xTicks,c.yTicks);
  c.points.forEach(pt=>{
    const d=make('circle',{cx:x(pt[0]),cy:y(pt[1]),r:1.7,fill:DOT},g);
    
    
  });
  const up=c.bandX.map((v,i)=>[x(v),y(c.bandHigh[i])]);
  const lo=c.bandX.map((v,i)=>[x(v),y(c.bandLow[i])]).reverse();
  const path=smoothPath(up)+smoothPath(lo).replace('M','L')+'Z';
  const band=make('path',{d:path,fill:'#999','fill-opacity':.42},g);
  
  
  const fit=make('line',{x1:x(c.fitX[0]),y1:y(c.fitY[0]),x2:x(c.fitX[1]),y2:y(c.fitY[1]),stroke:'#4a63b8','stroke-width':2},g);
  
  
  drawBorder(g,r);
  c.xTicks.forEach(v=>{
    const p=x(v);
    const t=make('line',{x1:p,x2:p,y1:r.b,y2:r.b+2.2,stroke:'#555','stroke-width':.6},g);
    
    
    const s=make('text',{x:p,y:r.b+c.xLabelDy,'text-anchor':'middle','font-size':7.6,fill:'#5a5a5a'},g);
    s.textContent=fmt(v,c.xDec);
    
    
  });
  c.yTicks.forEach(v=>{
    const p=y(v);
    const t=make('line',{x1:r.l-2.2,x2:r.l,y1:p,y2:p,stroke:'#555','stroke-width':.6},g);
    
    
    const s=make('text',{x:r.l-3.4,y:p+2.6,'text-anchor':'end','font-size':7.6,fill:'#5a5a5a'},g);
    s.textContent=fmt(v,c.yDec);
    
    
  });
}

function drawRaincloud(c){
  const g=plotOf(c.id);
  const x=scale(c.xa[0],c.xa[1],c.xa[2],c.xa[3]);
  const y=scale(0,1,c.base,c.base-c.unit);
  c.densities.forEach((s,si)=>{
    const col=si?BLUE:TEAL;
    const pts=s.map(p=>[x(p[0]),Math.min(y(p[1]),c.base)]);
    const d=smoothPath(pts)+'L'+pts[pts.length-1][0]+' '+c.base+'L'+pts[0][0]+' '+c.base+'Z';
    const a=make('path',{d:d,fill:col,'fill-opacity':.7,stroke:col,'stroke-opacity':.55,'stroke-width':.7},g);
    
    
  });
  c.rugs.forEach((rug,si)=>{
    rug.forEach(v=>{
      const l=make('line',{x1:x(v),x2:x(v),y1:c.base+1.4,y2:c.axisY,stroke:si?BLUE:TEAL,'stroke-width':.95},g);
      
      
    });
  });
  const ax=make('line',{x1:c.axisX[0],x2:c.axisX[1],y1:c.axisY,y2:c.axisY,stroke:'#222','stroke-width':1},g);
  
  
  c.xTicks.forEach(v=>{
    const t=make('line',{x1:x(v),x2:x(v),y1:c.axisY,y2:c.axisY+2.4,stroke:'#222','stroke-width':.8},g);
    
    
    const s=make('text',{x:x(v),y:c.tickY,'text-anchor':'middle','font-size':13.7,fill:'#222'},g);
    s.textContent=fmt(v,c.xDec);
    
    
  });
  c.boxes.forEach(b=>{
    const stats=b.stats, col=b.color, mid=b.y, h=b.h;
    const wh=make('line',{x1:x(stats[0]),x2:x(stats[4]),y1:mid,y2:mid,stroke:col,'stroke-width':1.2,'stroke-opacity':.9},g);
    
    
    const rc=make('rect',{x:x(stats[1]),y:mid-h/2,width:x(stats[3])-x(stats[1]),height:h,fill:col,stroke:b.edge,'stroke-width':.7},g);
    
    
    const md=make('line',{x1:x(stats[2]),x2:x(stats[2]),y1:mid-h/2,y2:mid+h/2,stroke:'#e8f7f8','stroke-width':1.4},g);
    
    
    b.outliers.forEach(v=>{
      const o=make('circle',{cx:x(v),cy:mid,r:2.8,fill:col},g);
      
      
    });
  });
}

function drawBars(c){
  const g=plotOf(c.id), r=c.rect;
  const cx=scale(0,c.categories.length-1,c.c0,c.c1);
  const y=scale(0,100,c.y0,c.y100);
  const catIdx=c.categories.map((_,i)=>i);
  drawFrameAndGrid(g,r,cx,y,catIdx,c.yTicks);
  c.categories.forEach((name,i)=>{
    const pd=c.pd[i], cr=c.cr[i], xc=cx(i), w=c.barW;
    if(cr>0){
      const a=make('rect',{x:xc-w/2,y:y(pd+cr),width:w,height:y(pd)-y(pd+cr),fill:TEAL,stroke:'#9fdbe0','stroke-width':.7},g);
      
      
    }
    const b=make('rect',{x:xc-w/2,y:y(pd),width:w,height:y(0)-y(pd),fill:BLUE,stroke:'#8fd0e4','stroke-width':.7},g);
    
    
  });
  c.categories.forEach((name,i)=>{
    const pd=c.pd[i], cr=c.cr[i], xc=cx(i)+c.labelDx;
    const t1=make('text',{x:xc,y:y(pd+cr/2)+c.fs*.36,'text-anchor':'middle','font-size':c.fs,fill:'#1a1a1a'},g);
    t1.textContent=c.crLabels[i];
    
    
    const t2=make('text',{x:xc,y:y(pd/2)+c.fs*.36,'text-anchor':'middle','font-size':c.fs,fill:'#1a1a1a'},g);
    t2.textContent=c.pdLabels[i];
    
    
  });
  drawBorder(g,r);
  c.yTicks.forEach(v=>{
    const p=y(v);
    const t=make('line',{x1:r.l-2.5,x2:r.l,y1:p,y2:p,stroke:'#444','stroke-width':.7},g);
    
    
    const s=make('text',{x:r.l-3.6,y:p+c.tickFs*.3,'text-anchor':'end','font-size':c.tickFs,fill:'#7f7f7f'},g);
    s.textContent=String(v);
    
    
  });
  c.categories.forEach((name,i)=>{
    const t=make('line',{x1:cx(i),x2:cx(i),y1:r.b,y2:r.b+2.5,stroke:'#444','stroke-width':.7},g);
    
    
    const parts=name.split('|');
    const s=make('text',{'font-size':c.tickFs,fill:'#7f7f7f'},g);
    
    
    parts.forEach((txt,k)=>{
      const sp=make('tspan',{x:cx(i)+c.catDx[i],y:c.catY+k*11,'text-anchor':parts.length>1?'start':'middle'},s);
      sp.textContent=txt;
    });
  });
}

/* Panel geometry (layout only) */
drawScatter({id:'panel-a',rect:{l:44.7,r:319.3,t:28.3,b:298.3},xa:[-4,8,104,314.3],ya:[.25,1,235,35],xTicks:aXTicks,yTicks:aYTicks,xDec:0,yDec:2,xLabelDy:11,points:aPoints,fitX:aFitX,fitY:aFitY,bandX:aBandX,bandLow:aBandLow,bandHigh:aBandHigh});
const bPoints=[];
bScores.forEach((s,i)=>{bColumns[i].forEach(v=>{bPoints.push([s,v]);});});
drawScatter({id:'panel-b',rect:{l:390,r:663.7,t:28.3,b:298.3},xa:[5,10,402.3,650.7],ya:[.25,1,235,35],xTicks:bXTicks,yTicks:bYTicks,xDec:0,yDec:2,xLabelDy:11,points:bPoints,fitX:bFitX,fitY:bFitY,bandX:bBandX,bandLow:bBandLow,bandHigh:bBandHigh});
drawScatter({id:'panel-c',rect:{l:44.7,r:319.3,t:418.3,b:687.3},xa:[-2,2,100.3,249.3],ya:[0,1,667,426],xTicks:cXTicks,yTicks:cYTicks,xDec:0,yDec:2,xLabelDy:10,points:cPoints,fitX:cFitX,fitY:cFitY,bandX:cBandX,bandLow:cBandLow,bandHigh:cBandHigh});
drawScatter({id:'panel-d',rect:{l:387.7,r:664.7,t:418.3,b:687.3},xa:[-2,3,424,646.7],ya:[1,3,623.7,456.7],xTicks:dXTicks,yTicks:dYTicks,xDec:0,yDec:0,xLabelDy:10,points:dPoints.concat(dPointsExtra),fitX:dFitX,fitY:dFitY,bandX:dBandX,bandLow:dBandLow,bandHigh:dBandHigh});
drawScatter({id:'panel-i',rect:{l:45.7,r:324.3,t:774.3,b:1043.7},xa:[0,7.5,48.7,267.7],ya:[.2,.8,985.3,775],xTicks:iXTicks,yTicks:iYTicks,xDec:1,yDec:1,xLabelDy:10.5,points:iPoints,fitX:iFitX,fitY:iFitY,bandX:iBandX,bandLow:iBandLow,bandHigh:iBandHigh});
drawScatter({id:'panel-j',rect:{l:393.3,r:678.3,t:774.3,b:1043.7},xa:[6,10,457.3,631],ya:[1,3,980,812.7],xTicks:jXTicks,yTicks:jYTicks,xDec:0,yDec:0,xLabelDy:10.5,points:jPoints.concat(jPointsExtra),fitX:jFitX,fitY:jFitY,bandX:jBandX,bandLow:jBandLow,bandHigh:jBandHigh});
drawScatter({id:'panel-k',rect:{l:751,r:1025,t:774.3,b:1043.7},xa:[2,6,815.3,997],ya:[.1,.25,1023.7,830],xTicks:kXTicks,yTicks:kYTicks,xDec:0,yDec:2,xLabelDy:10.5,points:kPoints,fitX:kFitX,fitY:kFitY,bandX:kBandX,bandLow:kBandLow,bandHigh:kBandHigh});

drawRaincloud({id:'panel-e',xa:[.25,1,831.7,1020],base:206,unit:33.33,axisY:212.3,axisX:[771.7,1026.7],tickY:229.3,xTicks:eXTicks,xDec:2,densities:[eMsiHDensity,eMssDensity],rugs:[eMsiHRug,eMssRug],boxes:[{stats:eMssBox,outliers:eMssOutliers,color:BLUE,edge:'#5db7d8',y:266,h:22.3},{stats:eMsiHBox,outliers:eMsiHOutliers,color:TEAL,edge:'#8fd8d8',y:294,h:22}]});
drawRaincloud({id:'panel-f',xa:[1,3,1155.7,1350],base:209.3,unit:83.33,axisY:217,axisX:[1095.7,1379.3],tickY:232.3,xTicks:fXTicks,xDec:0,densities:[fMsiDensity,fMssDensity],rugs:[fMsiRug,fMssRug],boxes:[{stats:fMssBox,outliers:fMssOutliers,color:BLUE,edge:'#5db7d8',y:269,h:22.3},{stats:fMsiBox,outliers:fMsiOutliers,color:TEAL,edge:'#8fd8d8',y:296.3,h:22}]});
drawRaincloud({id:'panel-g',xa:[1,3,833.3,1000],base:598.3,unit:83.33,axisY:605.7,axisX:[776,1037.3],tickY:622.3,xTicks:gXTicks,xDec:0,densities:[gDmmrDensity,gNonDmmrDensity],rugs:[gDmmrRug,gNonDmmrRug],boxes:[{stats:gNonDmmrBox,outliers:gNonDmmrOutliers,color:BLUE,edge:'#5db7d8',y:658.3,h:22.3},{stats:gDmmrBox,outliers:gDmmrOutliers,color:TEAL,edge:'#8fd8d8',y:686.7,h:23}]});

drawBars({id:'panel-h',rect:{l:1151,r:1344.3,t:431,b:684.3},categories:hCategories,pd:hPdSd,cr:hCrPr,pdLabels:hPdLabels,crLabels:hCrLabels,yTicks:hYTicks,c0:1203.7,c1:1291.7,y0:673.3,y100:442.3,barW:61.5,labelDx:1.3,fs:11.3,tickFs:11,catY:695,catDx:[1.3,1.3]});
drawBars({id:'panel-l',rect:{l:1087.7,r:1376.7,t:787.3,b:1036.7},categories:lCategories,pd:lPdSd,cr:lCrPr,pdLabels:lPdLabels,crLabels:lCrLabels,yTicks:lYTicks,c0:1127.6,c1:1335.3,y0:1026,y100:798.3,barW:48.5,labelDx:2.5,fs:8.5,tickFs:8.6,catY:1047.3,catDx:[-26,-28.3,-25.7,-27]});
</script>
</body>
</html>
